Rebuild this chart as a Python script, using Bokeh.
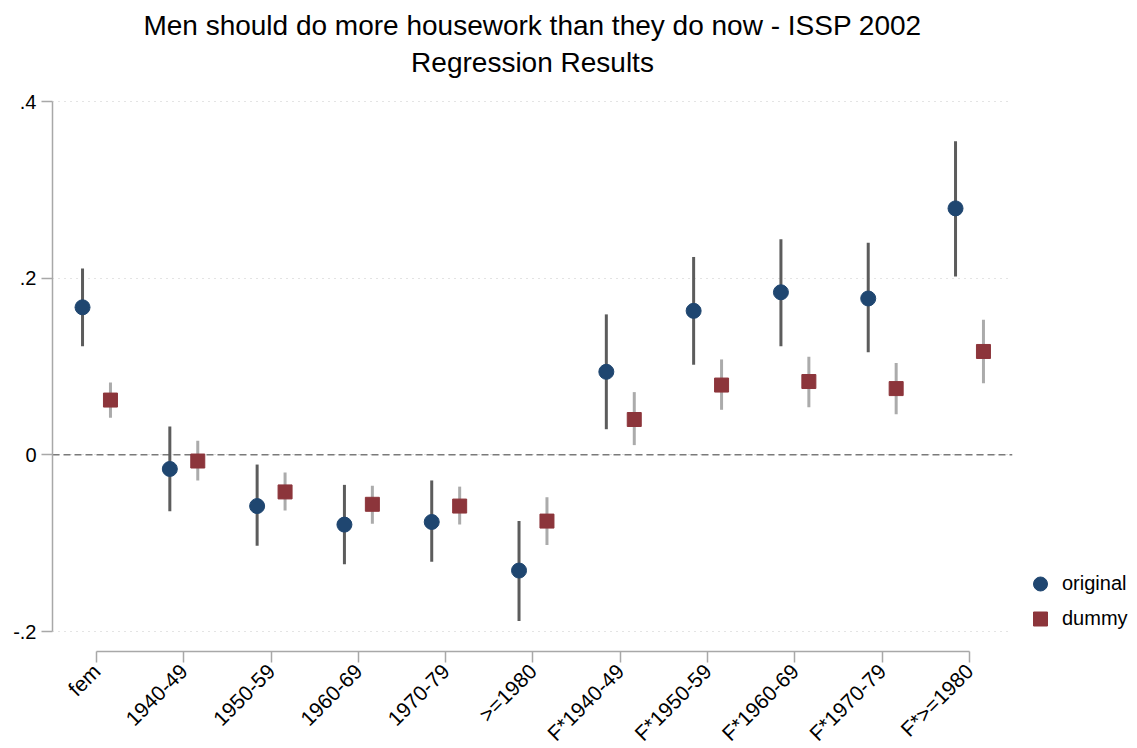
import math
from bokeh.plotting import figure
from bokeh.models import (ColumnDataSource, FixedTicker, Span, Legend, LegendItem,
                          Title, Range1d)
from bokeh.embed import file_html
from bokeh.resources import INLINE

title_lines = ["Men should do more housework than they do now - ISSP 2002", "Regression Results"]
categories = ["fem", "1940-49", "1950-59", "1960-69", "1970-79", ">=1980",
              "F*1940-49", "F*1950-59", "F*1960-69", "F*1970-79", "F*>=1980"]
orig_est = [0.167, -0.016, -0.058, -0.079, -0.076, -0.131, 0.094, 0.163, 0.184, 0.177, 0.279]
orig_lo = [0.123, -0.064, -0.103, -0.124, -0.121, -0.188, 0.029, 0.102, 0.123, 0.116, 0.202]
orig_hi = [0.211, 0.032, -0.011, -0.034, -0.029, -0.075, 0.159, 0.224, 0.244, 0.240, 0.355]
dummy_est = [0.062, -0.007, -0.042, -0.056, -0.058, -0.075, 0.040, 0.079, 0.083, 0.075, 0.117]
dummy_lo = [0.042, -0.029, -0.063, -0.078, -0.079, -0.102, 0.011, 0.051, 0.054, 0.046, 0.081]
dummy_hi = [0.082, 0.016, -0.020, -0.035, -0.036, -0.048, 0.071, 0.108, 0.111, 0.104, 0.153]
y_ticks = [-0.2, 0, 0.2, 0.4]
y_tick_labels = ["-.2", "0", ".2", ".4"]
series_names = ["original", "dummy"]

FONT = "Liberation Sans"
offset = 0.16
idx = list(range(len(categories)))

src_o = ColumnDataSource(dict(x=[i - offset for i in idx], y=orig_est, lo=orig_lo, hi=orig_hi))
src_d = ColumnDataSource(dict(x=[i + offset for i in idx], y=dummy_est, lo=dummy_lo, hi=dummy_hi))

p = figure(frame_width=960, frame_height=574,
           x_range=Range1d(-0.504, 10.4926), y_range=Range1d(-0.22264, 0.42717),
           output_backend="svg", toolbar_location=None,
           min_border_left=52, min_border_top=77, min_border_right=125, min_border_bottom=97)
p.outline_line_color = None
p.background_fill_color = "white"
p.border_fill_color = "white"

# titles: second line added first (closest to the plot)
p.add_layout(Title(text=title_lines[1], align="center", text_font=FONT,
                   text_font_size="28px", text_font_style="normal", text_color="black",
                   standoff=0), "above")
p.add_layout(Title(text=title_lines[0], align="center", text_font=FONT,
                   text_font_size="28px", text_font_style="normal", text_color="black",
                   standoff=8), "above")

# axes
yax = p.yaxis[0]
yax.ticker = FixedTicker(ticks=y_ticks)
yax.major_label_overrides = {t: l for t, l in zip(y_ticks, y_tick_labels)}
yax.bounds = (-0.2, 0.4)
xax = p.xaxis[0]
xax.ticker = FixedTicker(ticks=idx)
xax.major_label_overrides = {i: c for i, c in zip(idx, categories)}
xax.major_label_orientation = math.pi / 4
xax.bounds = (0, len(categories) - 1)
for ax in (xax, yax):
    ax.axis_line_color = "#a8a8a8"
    ax.axis_line_width = 1.5
    ax.major_tick_line_color = "#a8a8a8"
    ax.major_tick_line_width = 1.5
    ax.major_tick_out = 11
    ax.major_tick_in = 0
    ax.minor_tick_line_color = None
    ax.major_label_text_font = FONT
    ax.major_label_text_color = "black"
    ax.major_label_standoff = 5
yax.major_label_text_font_size = "20px"
xax.major_label_text_font_size = "21px"

p.xgrid.grid_line_color = None
p.ygrid.ticker = FixedTicker(ticks=y_ticks)
p.ygrid.grid_line_color = "#c8c8c8"
p.ygrid.grid_line_dash = "1 5"
p.ygrid.grid_line_width = 1.2

zero = Span(location=0, dimension="width", line_color="#7a7a7a", line_width=1.5,
            line_dash="7 4", level="underlay")
p.add_layout(zero)

# error bars
p.segment(x0="x", x1="x", y0="lo", y1="hi", source=src_o, line_color="#5c5c5c", line_width=3)
p.segment(x0="x", x1="x", y0="lo", y1="hi", source=src_d, line_color="#ababab", line_width=3)

r_o = p.scatter(x="x", y="y", source=src_o, marker="circle", size=15,
                fill_color="#1f4670", line_color="#1f4670")
r_d = p.scatter(x="x", y="y", source=src_d, marker="square", size=14,
                fill_color="#8c353b", line_color="#8c353b")

legend = Legend(items=[LegendItem(label=series_names[0], renderers=[r_o]),
                       LegendItem(label=series_names[1], renderers=[r_d])],
                location=(10, 15), orientation="vertical",
                glyph_width=36, glyph_height=35, label_height=20, spacing=0,
                label_standoff=4, padding=0, margin=0,
                label_text_font=FONT, label_text_font_size="20px",
                label_text_color="black",
                border_line_color=None, background_fill_alpha=0)
p.add_layout(legend, "right")

open("out.html", "w").write(file_html(p, INLINE))
